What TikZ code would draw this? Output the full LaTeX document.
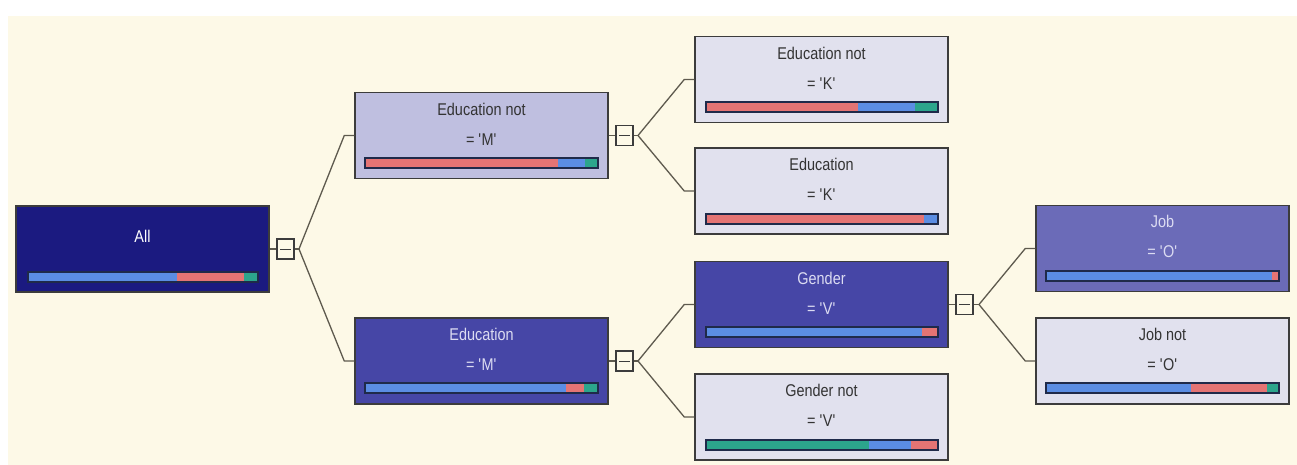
\documentclass[tikz,border=0pt]{standalone}
\usepackage{fontspec}
\setmainfont{Liberation Sans}[FakeStretch=0.85]

\definecolor{paper}{HTML}{FDF9E7}
\definecolor{edge}{HTML}{3C3C3C}
\definecolor{wire}{HTML}{5E5A4E}
\definecolor{navy}{HTML}{1B1A80}
\definecolor{midblue}{HTML}{4646A6}
\definecolor{jobblue}{HTML}{6B6BB8}
\definecolor{lav}{HTML}{BFBFE0}
\definecolor{pale}{HTML}{E1E1EE}
\definecolor{barblue}{HTML}{5B8DE3}
\definecolor{barred}{HTML}{E47474}
\definecolor{bargreen}{HTML}{2CA58C}
\definecolor{barrim}{HTML}{1F2A4A}
\definecolor{lightink}{HTML}{DCDCF2}

\newcommand{\sq}[1]{\textquotesingle#1\textquotesingle}

\tikzset{
  box/.style={draw=edge, line width=1.5pt, minimum width=253pt, minimum height=86pt, inner sep=0pt},
  cond/.style={align=center, font=\fontsize{17}{30}\selectfont, inner sep=0pt, text=black!80},
  toggle/.style={draw=edge, fill=paper, line width=1.2pt, minimum width=17pt, minimum height=20pt, inner sep=0pt,
    path picture={\draw[edge, line width=1pt] ([xshift=3pt]path picture bounding box.west) -- ([xshift=-3pt]path picture bounding box.east);}},
  link/.style={draw=wire, line width=1.3pt},
  barline/.style={draw=barrim, line width=1.2pt}
}

\begin{document}
\begin{tikzpicture}[x=1pt, y=-1pt]
\useasboundingbox (0,0) rectangle (1297,465);
\fill[white] (0,0) rectangle (1297,465);
\fill[paper] (8,16) rectangle (1297,465);

% root
\node[box, fill=navy] at (142.5,249) (0) {};
\node[cond, text=white] at (142.5,236) (0t) {All};
\node[toggle] at (285.5,249) (0m) {};
\coordinate (0b) at (299,249);
\draw[link] (0) -- (0m); \draw[link] (0m) -- (0b);

% education level
\node[box, fill=lav] at (481.5,135.5) (1) {};
\node[cond] at (481.5,124) (1t) {Education not\\= \sq{M}};
\node[box, fill=midblue] at (481.5,361) (2) {};
\node[cond, text=lightink] at (481.5,349) (2t) {Education\\= \sq{M}};
\draw[link] (0b) -- ([xshift=-10pt]1.west) -- (1.west);
\draw[link] (0b) -- ([xshift=-10pt]2.west) -- (2.west);

\node[toggle] at (624.5,135.5) (1m) {};
\coordinate (1b) at (638,135.5);
\draw[link] (1) -- (1m); \draw[link] (1m) -- (1b);
\node[toggle] at (624.5,361) (2m) {};
\coordinate (2b) at (638,361);
\draw[link] (2) -- (2m); \draw[link] (2m) -- (2b);

% second split
\node[box, fill=pale] at (821.5,79.5) (11) {};
\node[cond] at (821.5,68) (11t) {Education not\\= \sq{K}};
\node[box, fill=pale] at (821.5,191) (12) {};
\node[cond] at (821.5,179) (12t) {Education\\= \sq{K}};
\draw[link] (1b) -- ([xshift=-10pt]11.west) -- (11.west);
\draw[link] (1b) -- ([xshift=-10pt]12.west) -- (12.west);

\node[box, fill=midblue] at (821.5,304.5) (21) {};
\node[cond, text=lightink] at (821.5,293) (21t) {Gender\\= \sq{V}};
\node[box, fill=pale] at (821.5,417) (22) {};
\node[cond] at (821.5,405) (22t) {Gender not\\= \sq{V}};
\draw[link] (2b) -- ([xshift=-10pt]21.west) -- (21.west);
\draw[link] (2b) -- ([xshift=-10pt]22.west) -- (22.west);

\node[toggle] at (964.5,304.5) (21m) {};
\coordinate (21b) at (979,304.5);
\draw[link] (21) -- (21m); \draw[link] (21m) -- (21b);

% job
\node[box, fill=jobblue] at (1162.5,248.5) (211) {};
\node[cond, text=lightink] at (1162.5,236) (211t) {Job\\= \sq{O}};
\node[box, fill=pale] at (1162.5,361) (212) {};
\node[cond] at (1162.5,349) (212t) {Job not\\= \sq{O}};
\draw[link] (21b) -- ([xshift=-10pt]211.west) -- (211.west);
\draw[link] (21b) -- ([xshift=-10pt]212.west) -- (212.west);

% class shares
\foreach \y/\a/\b/\c in {
  272/28/177/barblue, 272/177/244/barred, 272/244/258/bargreen,
  158/365/558/barred, 158/558/585/barblue, 158/585/598/bargreen,
  383/365/566/barblue, 383/566/584/barred, 383/584/598/bargreen,
  102/706/858/barred, 102/858/915/barblue, 102/915/938/bargreen,
  214/706/924/barred, 214/924/938/barblue,
  327/706/922/barblue, 327/922/938/barred,
  440/706/869/bargreen, 440/869/911/barblue, 440/911/938/barred,
  271/1046/1272/barblue, 271/1272/1279/barred,
  383/1046/1191/barblue, 383/1191/1267/barred, 383/1267/1279/bargreen}
  \fill[\c] (\a,\y) rectangle (\b,\y+10);
\foreach \y/\a/\b in {272/28/258, 158/365/598, 383/365/598, 102/706/938, 214/706/938,
  327/706/938, 440/706/938, 271/1046/1279, 383/1046/1279}
  \draw[barline] (\a,\y) rectangle (\b,\y+10);
\end{tikzpicture}
\end{document}
